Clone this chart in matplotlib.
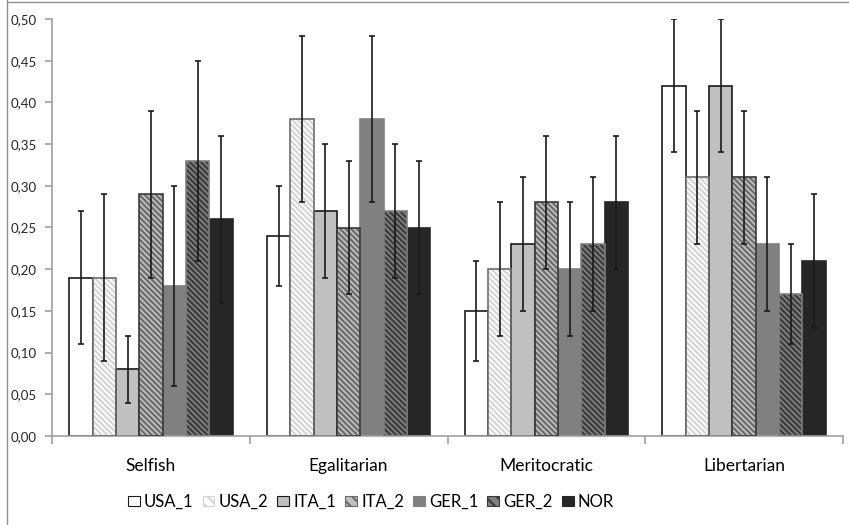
import numpy as np
import matplotlib
matplotlib.use("Agg")
import matplotlib.pyplot as plt
from matplotlib.patches import Patch
from matplotlib.lines import Line2D
from matplotlib.ticker import FuncFormatter, MultipleLocator

plt.rcParams['font.family'] = ['Lato', 'DejaVu Sans']
plt.rcParams['hatch.linewidth'] = 1.5

# data
categories = ['Selfish', 'Egalitarian', 'Meritocratic', 'Libertarian']
groups = ['USA_1', 'USA_2', 'ITA_1', 'ITA_2', 'GER_1', 'GER_2', 'NOR']

usa_1 = [0.19, 0.24, 0.15, 0.42]
usa_2 = [0.19, 0.38, 0.20, 0.31]
ita_1 = [0.08, 0.27, 0.23, 0.42]
ita_2 = [0.29, 0.25, 0.28, 0.31]
ger_1 = [0.18, 0.38, 0.20, 0.23]
ger_2 = [0.33, 0.27, 0.23, 0.17]
nor = [0.26, 0.25, 0.28, 0.21]

usa_1_err = [0.08, 0.06, 0.06, 0.08]
usa_2_err = [0.10, 0.10, 0.08, 0.08]
ita_1_err = [0.04, 0.08, 0.08, 0.08]
ita_2_err = [0.10, 0.08, 0.08, 0.08]
ger_1_err = [0.12, 0.10, 0.08, 0.08]
ger_2_err = [0.12, 0.08, 0.08, 0.06]
nor_err = [0.10, 0.08, 0.08, 0.08]

values = [usa_1, usa_2, ita_1, ita_2, ger_1, ger_2, nor]
errors = [usa_1_err, usa_2_err, ita_1_err, ita_2_err, ger_1_err, ger_2_err, nor_err]

HATCH = '\\' * 6

# fill, hatch colour, hatch, edge colour
styles = [
    ('white', None, None, '#1a1a1a'),
    ('white', '#d4d4d4', HATCH, '#6e6e6e'),
    ('#c0c0c0', None, None, '#1a1a1a'),
    ('#c0c0c0', '#6a6a6a', HATCH, '#3a3a3a'),
    ('#808080', None, None, '#808080'),
    ('#808080', '#3a3a3a', HATCH, '#808080'),
    ('#262626', None, None, '#262626'),
]

fig = plt.figure(figsize=(8.49, 5.25), dpi=100)
ax = fig.add_axes([52 / 849, 89 / 525, 791 / 849, 417 / 525])

x = np.arange(len(categories))
w = 0.118
for j, (vals, errs) in enumerate(zip(values, errors)):
    fill, hcol, hatch, ecol = styles[j]
    pos = x + (j - 3) * w
    if hatch:
        ax.bar(pos, vals, w, color=fill, edgecolor=hcol, hatch=hatch, linewidth=0, zorder=2)
        ax.bar(pos, vals, w, fill=False, edgecolor=ecol, linewidth=1.2, zorder=3)
    else:
        ax.bar(pos, vals, w, color=fill, edgecolor=ecol, linewidth=1.2, zorder=2)
    ax.errorbar(pos, vals, yerr=errs, fmt='none', ecolor='#1a1a1a', elinewidth=1.2,
                capsize=2.5, capthick=1.2, zorder=4)

ax.set_xlim(-0.5, 3.5)
ax.set_ylim(0, 0.5)
ax.yaxis.set_major_locator(MultipleLocator(0.05))
ax.yaxis.set_major_formatter(FuncFormatter(lambda v, p: f'{v:.2f}'.replace('.', ',')))
ax.set_xticks(x)
ax.set_xticklabels(categories, fontsize=12.5)
ax.set_xticks(np.arange(-0.5, 4, 1), minor=True)
ax.tick_params(axis='x', which='major', length=0, pad=16)
ax.tick_params(axis='x', which='minor', length=6, color='#a0a0a0', width=1.2)
ax.tick_params(axis='y', length=5, color='#a0a0a0', width=1.2, labelsize=9.5,
               labelcolor='#262626', pad=6)

for s in ['top', 'right']:
    ax.spines[s].set_visible(False)
for s in ['left', 'bottom']:
    ax.spines[s].set_color('#a0a0a0')
    ax.spines[s].set_linewidth(1.2)

handles = []
for fill, hcol, hatch, ecol in styles:
    if hatch:
        handles.append(Patch(facecolor=fill, edgecolor=hcol, hatch='\\\\\\', linewidth=0.8))
    else:
        handles.append(Patch(facecolor=fill, edgecolor=ecol, linewidth=0.8))
fig.legend(handles, groups, loc='center', bbox_to_anchor=(371 / 849, 23 / 525),
           ncol=7, frameon=False, fontsize=12, handlelength=0.7, handleheight=0.5,
           handletextpad=0.25, columnspacing=0.55)

# outer frame lines
fig.add_artist(Line2D([7 / 849, 7 / 849], [0, 1], color='#909090', lw=1))
fig.add_artist(Line2D([7 / 849, 1], [1 - 1.5 / 525, 1 - 1.5 / 525], color='#909090', lw=1))

fig.savefig('out.png', dpi=100)
